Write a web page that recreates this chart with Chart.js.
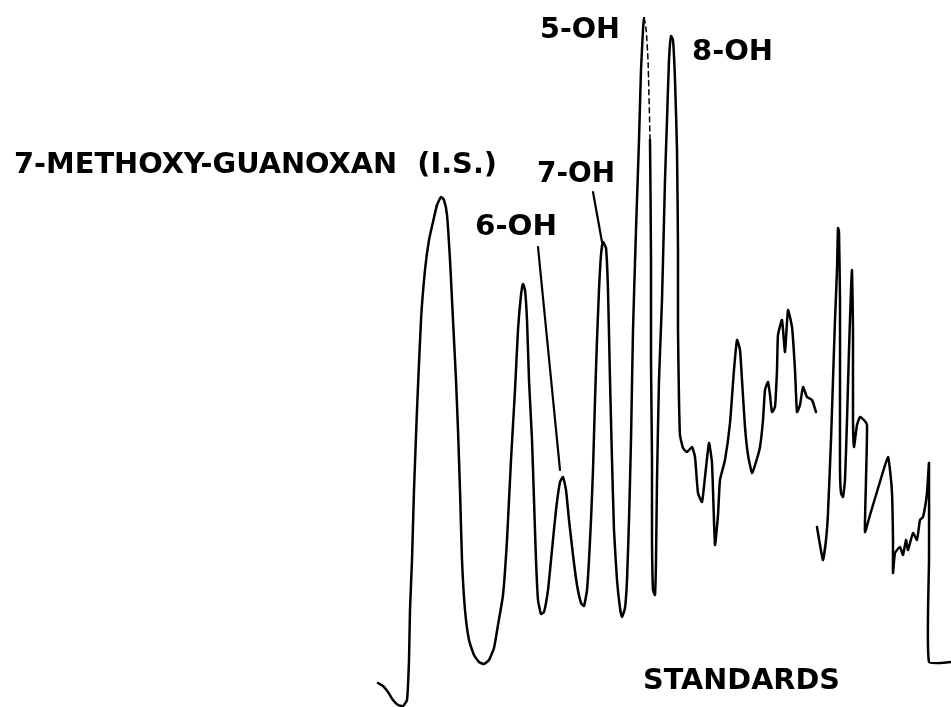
<!DOCTYPE html>
<html>
<head>
<meta charset="utf-8">
<title>Standards</title>
<script src="https://cdn.jsdelivr.net/npm/chart.js@4.4.1/dist/chart.umd.min.js"></script>
<style>
    html, body { margin: 0; padding: 0; background: #fff; }
    #trace { display: block; }
</style>
</head>
<body>
<canvas id="trace" width="951" height="707"></canvas>
<script>
// detector trace, first sweep (retention in chart units, response upward)
var retentionA = [378, 383, 388, 393, 398, 403, 407, 409, 410, 412, 414, 417, 421, 425, 429, 433, 437, 441, 444, 447,
    450, 453, 456, 458, 460, 462, 465, 469, 474, 479, 484, 489, 494, 498, 503, 507, 511, 515, 518, 521,
    523, 525, 527, 529, 532, 534, 536, 538, 541, 544, 548, 552, 556, 560, 563, 566, 569, 573, 577, 581,
    584, 587, 589, 591, 593, 595, 597, 599, 601, 603, 606, 608, 610, 612, 614, 617, 620, 622, 625, 627,
    629, 631, 633, 636, 639, 641, 643, 644, 646, 648, 650, 651, 651, 652, 652, 653, 655, 656, 657, 659,
    662, 665, 667, 669, 671, 673, 675, 677, 678, 678, 679, 680, 683, 687, 692, 695, 698, 702, 705, 709,
    712, 715, 718, 720, 725, 730, 734, 737, 740, 742, 745, 748, 752, 756, 760, 763, 765, 768, 770, 772,
    775, 777, 778, 782, 785, 788, 792, 795, 797, 800, 803, 807, 812, 816];
var responseA = [24, 21, 15, 7, 2, 1, 7, 47, 97, 147, 217, 297, 387, 437, 467, 485, 502, 510, 507, 492,
    447, 387, 327, 277, 217, 147, 97, 67, 52, 45, 43, 47, 59, 82, 112, 167, 247, 317, 377, 412,
    423, 417, 387, 327, 267, 207, 147, 107, 93, 95, 117, 157, 197, 225, 230, 217, 187, 152, 122, 104,
    101, 117, 147, 187, 237, 307, 367, 417, 452, 465, 459, 417, 327, 247, 177, 127, 99, 90, 99, 127,
    187, 267, 377, 477, 567, 637, 677, 689, 679, 647, 567, 447, 347, 247, 167, 117, 112, 147, 227, 327,
    407, 527, 587, 647, 671, 667, 627, 557, 457, 377, 307, 272, 259, 255, 260, 250, 214, 205, 230, 264,
    244, 162, 192, 227, 247, 284, 337, 367, 357, 327, 280, 252, 234, 245, 260, 287, 317, 325, 312, 295,
    300, 337, 372, 387, 355, 397, 380, 337, 295, 302, 320, 310, 307, 295];

// second sweep after the pen was lifted
var retentionB = [817, 820, 823, 826, 828, 831, 833, 835, 837, 838, 839, 840, 840, 840, 841, 843, 845, 847, 849, 851,
    852, 853, 853, 854, 857, 860, 864, 867, 866, 865, 870, 876, 882, 888, 890, 892, 893, 893, 895, 900,
    903, 906, 908, 913, 917, 920, 923, 927, 929, 929, 929, 951];
var responseB = [180, 162, 147, 167, 194, 267, 327, 387, 437, 479, 475, 407, 307, 237, 214, 210, 227, 287, 357, 417,
    437, 377, 287, 260, 282, 290, 287, 282, 227, 175, 192, 212, 232, 250, 237, 214, 167, 134, 154, 160,
    152, 167, 157, 174, 167, 187, 190, 214, 244, 147, 45, 45];

// the falling side of the 5-OH peak is drawn faint near the top
var dashedSpan = [644, 651];
var dashedFloor = 540;

// peak names: left edge, baseline, fitted width
var peakLabels = [
    { text: '5-OH', x: 540, y: 669, width: 80 },
    { text: '8-OH', x: 692, y: 647, width: 81 },
    { text: '7-OH', x: 537, y: 525, width: 78 },
    { text: '6-OH', x: 475, y: 472, width: 82 },
    { text: '7-METHOXY-GUANOXAN  (I.S.)', x: 14, y: 534, width: 483 },
    { text: 'STANDARDS', x: 643, y: 18, width: 197 }
];

// leader strokes from label to peak
var leaders = [
    [593, 515, 602, 465],
    [538, 460, 560, 237]
];

function buildPoints() {
    var pts = [];
    for (var i = 0; i < retentionA.length; i++) {
        pts.push({ x: retentionA[i], y: responseA[i] });
    }
    pts.push({ x: 816.5, y: null });
    for (var j = 0; j < retentionB.length; j++) {
        pts.push({ x: retentionB[j], y: responseB[j] });
    }
    return pts;
}

function isDashed(ctx) {
    var a = ctx.p0.parsed, b = ctx.p1.parsed;
    return a.x >= dashedSpan[0] && b.x <= dashedSpan[1] && b.y >= dashedFloor;
}

var labelPlugin = {
    id: 'peakNotes',
    afterDatasetsDraw: function(chart) {
        var c = chart.ctx;
        var xs = chart.scales.x, ys = chart.scales.y;
        c.save();
        c.strokeStyle = '#000';
        c.lineWidth = 2.2;
        c.lineCap = 'round';
        leaders.forEach(function(l) {
            c.beginPath();
            c.moveTo(xs.getPixelForValue(l[0]), ys.getPixelForValue(l[1]));
            c.lineTo(xs.getPixelForValue(l[2]), ys.getPixelForValue(l[3]));
            c.stroke();
        });
        c.fillStyle = '#000';
        c.font = 'bold 28px "DejaVu Sans", Arial, sans-serif';
        c.textBaseline = 'alphabetic';
        peakLabels.forEach(function(lb) {
            var px = xs.getPixelForValue(lb.x);
            var py = ys.getPixelForValue(lb.y);
            var sx = lb.width / c.measureText(lb.text).width;
            c.save();
            c.translate(px, py);
            c.scale(sx, 1);
            c.fillText(lb.text, 0, 0);
            c.restore();
        });
        c.restore();
    }
};

document.addEventListener('DOMContentLoaded', function() {
    var ctx = document.getElementById('trace').getContext('2d');
    var chart = new Chart(ctx, {
        type: 'line',
        data: {
            datasets: [{
                label: 'standards',
                data: buildPoints(),
                borderColor: '#000',
                borderWidth: 2.5,
                pointRadius: 0,
                tension: 0.15,
                spanGaps: false,
                borderJoinStyle: 'round',
                borderCapStyle: 'round',
                segment: {
                    borderDash: function(ctx) { return isDashed(ctx) ? [5, 4] : undefined; },
                    borderWidth: function(ctx) { return isDashed(ctx) ? 1.5 : undefined; }
                }
            }]
        },
        options: {
            responsive: false,
            animation: false,
            layout: { padding: 0 },
            scales: {
                x: { type: 'linear', min: 0, max: 951, display: false },
                y: { type: 'linear', min: 0, max: 707, display: false }
            },
            plugins: {
                legend: { display: false },
                tooltip: { enabled: false }
            }
        },
        plugins: [labelPlugin]
    });
});
</script>
</body>
</html>
